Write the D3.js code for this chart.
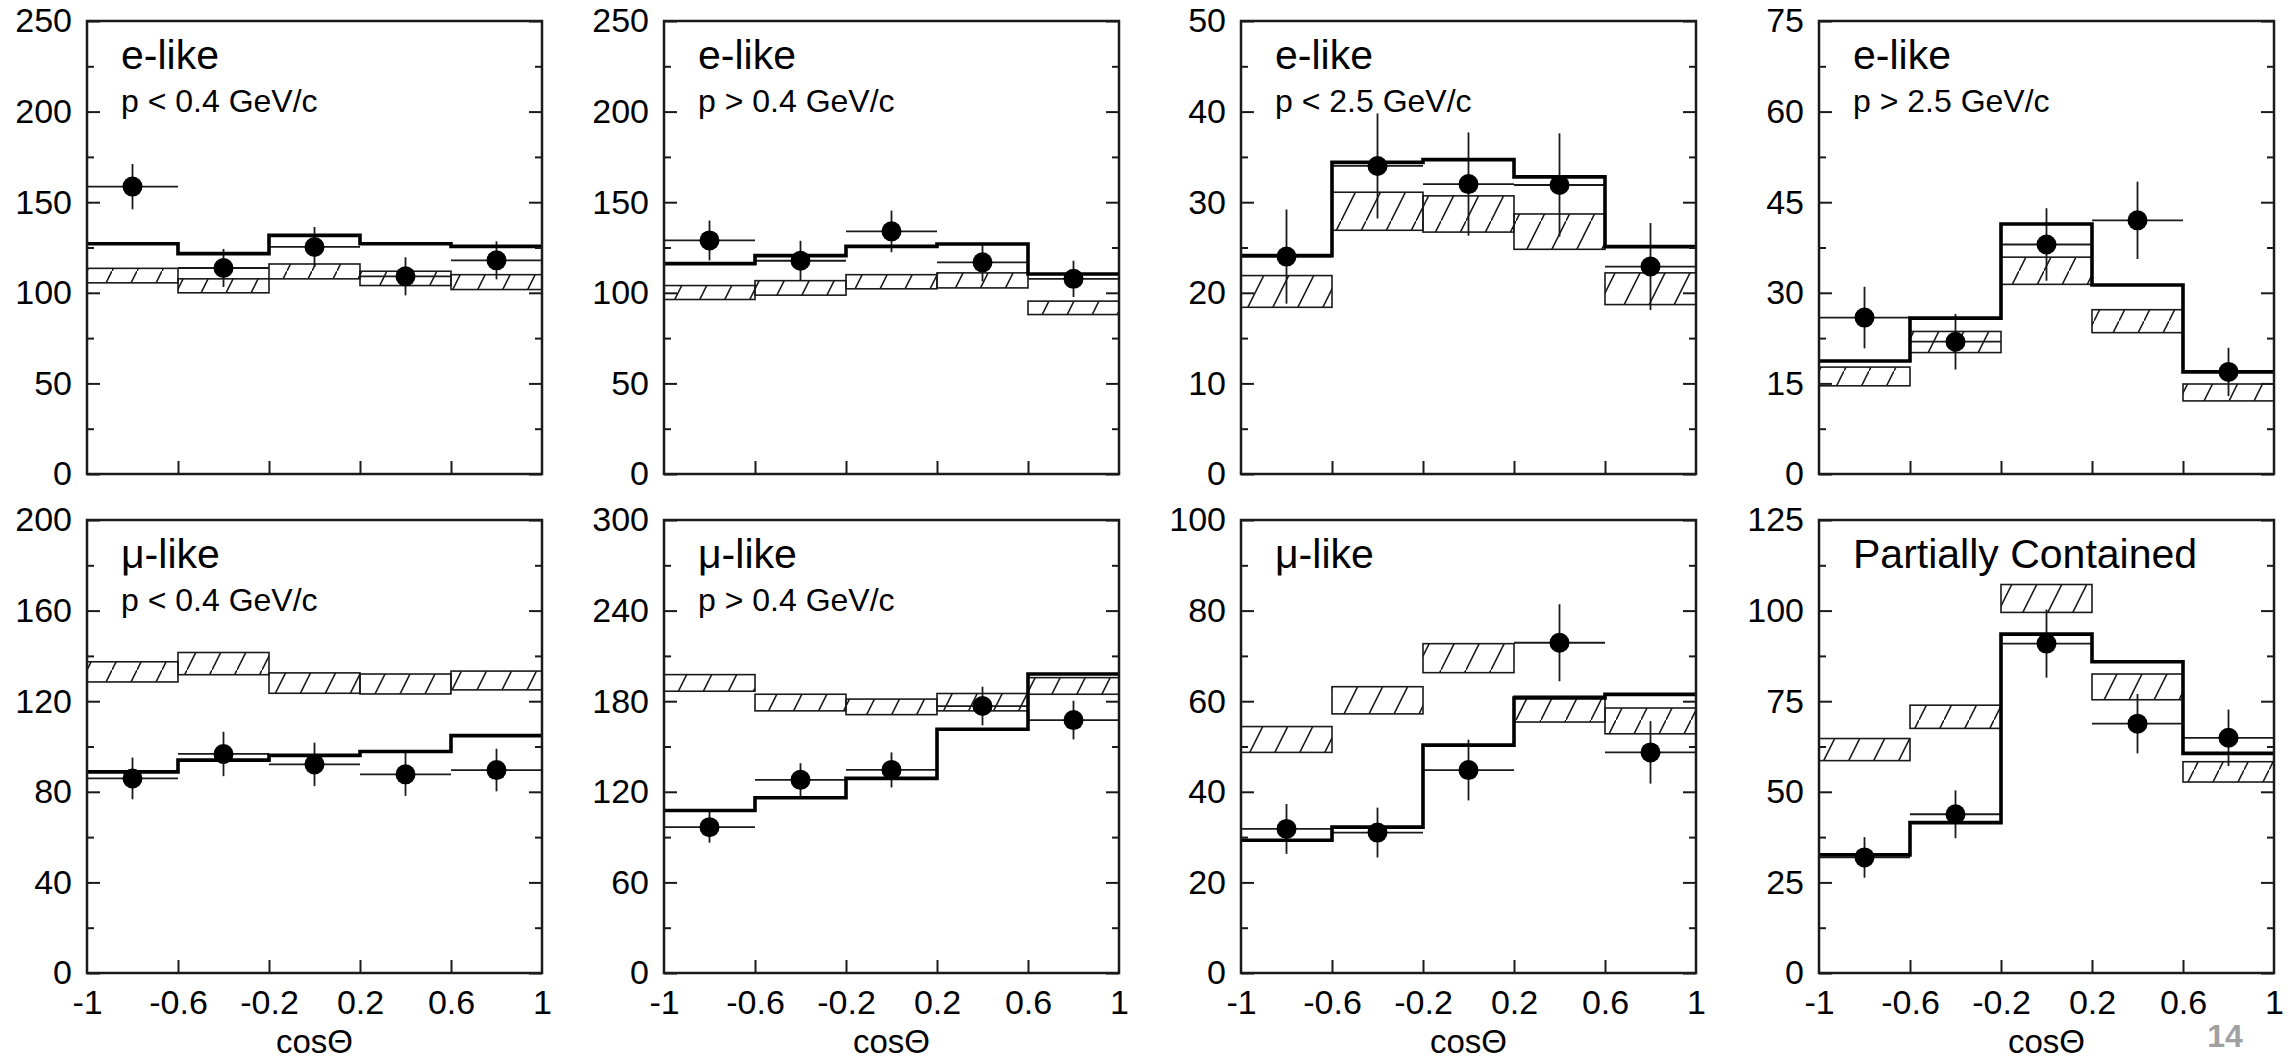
<!DOCTYPE html>
<html>
<head>
<meta charset="utf-8">
<script src="https://cdn.jsdelivr.net/npm/d3@7"></script>
<style>
  body { margin: 0; background: #fff; }
  svg { display: block; }
  text { font-family: "Liberation Sans", Arial, sans-serif; fill: #000; }
</style>
</head>
<body>
<div id="chart"></div>
<script>
  var binEdges = [-1, -0.6, -0.2, 0.2, 0.6, 1];
  var xTicks = [-1, -0.6, -0.2, 0.2, 0.6, 1];
  var titles = ['e-like', 'e-like', 'e-like', 'e-like', 'μ-like', 'μ-like', 'μ-like', 'Partially Contained'];
  var subtitles = ['p < 0.4 GeV/c', 'p > 0.4 GeV/c', 'p < 2.5 GeV/c', 'p > 2.5 GeV/c', 'p < 0.4 GeV/c', 'p > 0.4 GeV/c', '', ''];
  var yMax = [250, 250, 50, 75, 200, 300, 100, 125];
  var yStep = [50, 50, 10, 15, 40, 60, 20, 25];

  // data points (dots) and their errors
  var dataVals = [
    [158.6, 113.7, 125.3, 109.1, 117.9],
    [128.9, 117.7, 133.9, 116.8, 107.7],
    [24.0, 34.0, 32.0, 31.9, 22.9],
    [25.9, 21.9, 38.0, 42.0, 16.9],
    [85.9, 96.7, 92.1, 87.7, 89.6],
    [96.6, 127.9, 134.5, 176.8, 167.5],
    [31.8, 31.0, 44.8, 72.9, 48.7],
    [31.9, 43.8, 90.9, 68.8, 64.9]
  ];
  var dataErr = [
    [12.5, 10.5, 11, 10.5, 10.5],
    [11, 11, 11.5, 10.5, 10],
    [5.2, 5.8, 5.7, 5.7, 4.8],
    [5.1, 4.6, 6, 6.4, 4],
    [9.2, 9.8, 9.6, 9.5, 9.4],
    [10.3, 11, 11.6, 12.8, 12.8],
    [5.5, 5.5, 6.7, 8.5, 6.9],
    [5.6, 6.6, 9.4, 8.2, 7.8]
  ];
  // best fit (thick histogram)
  var oscVals = [
    [127.1, 121.6, 131.7, 127.1, 125.6],
    [116.1, 120.5, 125.6, 126.9, 110.4],
    [24.1, 34.4, 34.7, 32.8, 25.1],
    [18.7, 25.8, 41.4, 31.3, 16.9],
    [88.8, 94, 96.1, 97.8, 104.8],
    [107.6, 116.1, 128.9, 161.4, 198],
    [29.3, 32.2, 50.3, 60.7, 61.5],
    [32.6, 41.5, 93.5, 85.9, 60.6]
  ];
  // hatched boxes
  var boxLow = [
    [105.5, 100, 107.7, 104, 101.8],
    [96.3, 98.7, 102.2, 102.7, 88],
    [18.4, 26.9, 26.7, 24.8, 18.7],
    [14.6, 20.1, 31.4, 23.4, 12.1],
    [128.5, 131.7, 123.5, 123.2, 125],
    [186.6, 173.6, 171.1, 173.6, 184.6],
    [48.7, 57.2, 66.3, 55.4, 52.8],
    [58.6, 67.5, 99.5, 75.4, 52.7]
  ];
  var boxHigh = [
    [113.5, 107.7, 115.9, 111.9, 110],
    [104, 106.7, 110, 111, 95.4],
    [21.9, 31.1, 30.7, 28.7, 22.2],
    [17.7, 23.6, 35.9, 27.2, 14.9],
    [137.4, 141.5, 132.5, 132, 133.3],
    [197.6, 184.6, 181.4, 185.1, 195.6],
    [54.4, 63.2, 72.7, 61.1, 58.5],
    [64.7, 73.9, 107.2, 82.5, 58.3]
  ];

  var width = 2295, height = 1060;
  var panel_left = [87, 664, 1241, 1819];
  var panel_top = [21, 520];
  var pw = 455, ph = 453;
  var ink = '#1a1a1a';

  var svg = d3.select('#chart').append('svg')
    .attr('width', width)
    .attr('height', height);

  svg.append('defs').append('pattern')
    .attr('id', 'hatch')
    .attr('patternUnits', 'userSpaceOnUse')
    .attr('width', 25)
    .attr('height', 50)
    .append('path')
    .attr('d', 'M0,50 L25,0 M-2.5,55 L2.5,45 M22.5,5 L27.5,-5')
    .attr('stroke', ink)
    .attr('stroke-width', 1.6);

  var nums = d3.range(8);
  nums.forEach(function(p) {
    var row = Math.floor(p / 4), col = p % 4;
    var g = svg.append('g')
      .attr('transform', 'translate(' + panel_left[col] + ',' + panel_top[row] + ')');

    var x = d3.scaleLinear().domain([-1, 1]).range([0, pw]);
    var y = d3.scaleLinear().domain([0, yMax[p]]).range([ph, 0]);

    var major = d3.range(0, yMax[p] + 0.001, yStep[p]);
    var minor = major.slice(0, -1).map(function(v) { return v + yStep[p] / 2; });

    // hatched boxes
    g.selectAll('rect.box')
      .data(boxLow[p])
      .enter()
      .append('rect')
      .attr('class', 'box')
      .attr('x', function(d, i) { return x(binEdges[i]); })
      .attr('width', function(d, i) { return x(binEdges[i + 1]) - x(binEdges[i]); })
      .attr('y', function(d, i) { return y(boxHigh[p][i]); })
      .attr('height', function(d, i) { return y(d) - y(boxHigh[p][i]); })
      .attr('fill', 'url(#hatch)')
      .attr('stroke', ink)
      .attr('stroke-width', 1.6);

    // data horizontal bars (bin width)
    g.selectAll('line.xbar')
      .data(dataVals[p])
      .enter()
      .append('line')
      .attr('x1', function(d, i) { return x(binEdges[i]); })
      .attr('x2', function(d, i) { return x(binEdges[i + 1]); })
      .attr('y1', function(d) { return y(d); })
      .attr('y2', function(d) { return y(d); })
      .attr('stroke', ink)
      .attr('stroke-width', 1.8);

    // vertical error bars
    g.selectAll('line.ybar')
      .data(dataVals[p])
      .enter()
      .append('line')
      .attr('x1', function(d, i) { return x((binEdges[i] + binEdges[i + 1]) / 2); })
      .attr('x2', function(d, i) { return x((binEdges[i] + binEdges[i + 1]) / 2); })
      .attr('y1', function(d, i) { return y(d - dataErr[p][i]); })
      .attr('y2', function(d, i) { return y(d + dataErr[p][i]); })
      .attr('stroke', ink)
      .attr('stroke-width', 1.8);

    // thick step histogram
    var pts = oscVals[p].map(function(v, i) { return [binEdges[i], v]; });
    pts.push([binEdges[5], oscVals[p][4]]);
    g.append('path')
      .attr('d', d3.line()
        .x(function(d) { return x(d[0]); })
        .y(function(d) { return y(d[1]); })
        .curve(d3.curveStepAfter)(pts))
      .attr('fill', 'none')
      .attr('stroke', '#000')
      .attr('stroke-width', 3.6);

    // data dots
    g.selectAll('circle')
      .data(dataVals[p])
      .enter()
      .append('circle')
      .attr('cx', function(d, i) { return x((binEdges[i] + binEdges[i + 1]) / 2); })
      .attr('cy', function(d) { return y(d); })
      .attr('r', 10)
      .attr('fill', '#000');

    // axes
    g.append('g').call(d3.axisLeft(y).tickValues(major).tickSize(-13).tickPadding(15)
      .tickFormat(function(d) { return String(d); }));
    g.append('g').call(d3.axisLeft(y).tickValues(minor).tickSize(-7).tickFormat(''));
    g.append('g').attr('transform', 'translate(' + pw + ',0)')
      .call(d3.axisRight(y).tickValues(major).tickSize(-13).tickFormat(''));
    g.append('g').attr('transform', 'translate(' + pw + ',0)')
      .call(d3.axisRight(y).tickValues(minor).tickSize(-7).tickFormat(''));
    g.append('g').attr('transform', 'translate(0,' + ph + ')')
      .call(d3.axisBottom(x).tickValues(xTicks.slice(1, -1)).tickSize(-13).tickFormat(''));
    if (row === 1) {
      g.append('g').attr('transform', 'translate(0,' + ph + ')')
        .call(d3.axisBottom(x).tickValues(xTicks).tickSize(0).tickPadding(17)
          .tickFormat(function(d) { return String(d); }));
      g.append('text')
        .attr('x', pw / 2)
        .attr('y', ph + 80)
        .attr('text-anchor', 'middle')
        .style('font-size', '33px')
        .text('cosΘ');
    }
    g.selectAll('.domain').remove();
    g.selectAll('.tick line').attr('stroke', ink).attr('stroke-width', 2);
    g.selectAll('.tick text')
      .attr('fill', '#000')
      .style('font-size', '34px')
      .style('font-family', '"Liberation Sans", Arial, sans-serif');

    // frame
    g.append('rect')
      .attr('width', pw)
      .attr('height', ph)
      .attr('fill', 'none')
      .attr('stroke', ink)
      .attr('stroke-width', 2.5);

    g.append('text')
      .attr('x', 34)
      .attr('y', 48)
      .style('font-size', '41px')
      .text(titles[p]);
    if (subtitles[p]) {
      g.append('text')
        .attr('x', 34)
        .attr('y', 91)
        .style('font-size', '32px')
        .text(subtitles[p]);
    }
  });

  svg.append('text')
    .attr('x', 2225)
    .attr('y', 1047)
    .attr('text-anchor', 'middle')
    .style('font-size', '32px')
    .style('font-weight', 'bold')
    .style('fill', '#a0a0a0')
    .text('14');
</script>
</body>
</html>
